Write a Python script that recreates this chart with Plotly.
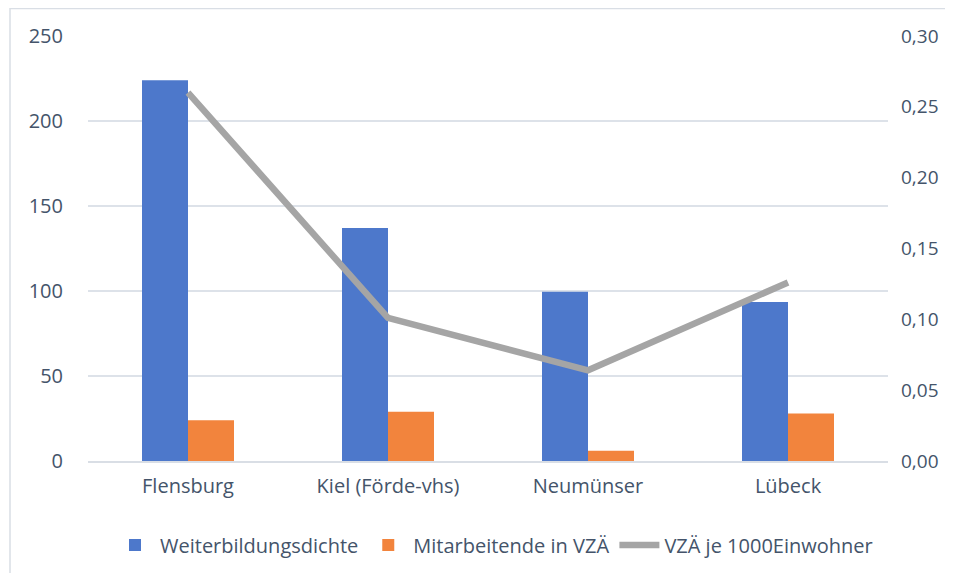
import plotly.graph_objects as go

categories = ["Flensburg", "Kiel (Förde-vhs)", "Neumünser", "Lübeck"]
weiterbildungsdichte = [224, 137, 99.5, 93.5]
mitarbeitende_vza = [24, 29, 6, 28]
vza_je_1000 = [0.26, 0.101, 0.064, 0.126]

left_ticks = [0, 50, 100, 150, 200, 250]
right_ticks = [0, 0.05, 0.10, 0.15, 0.20, 0.25, 0.30]

font_color = "#44546A"
font_family = "Open Sans, Noto Sans, sans-serif"

fig = go.Figure()
fig.add_trace(go.Bar(
    x=categories, y=weiterbildungsdichte, name="Weiterbildungsdichte",
    marker=dict(color="#4D78CB", line=dict(width=0)),
))
fig.add_trace(go.Bar(
    x=categories, y=mitarbeitende_vza, name="Mitarbeitende in VZÄ",
    marker=dict(color="#F2843D", line=dict(width=0)),
))
fig.add_trace(go.Scatter(
    x=categories, y=vza_je_1000, name="VZÄ je 1000Einwohner",
    mode="lines", yaxis="y2",
    line=dict(color="#A5A5A5", width=6.5),
))

W, H = 937, 565
# page body has an 8px margin; figure is sized/positioned to compensate
fig.update_layout(
    width=W, height=H,
    margin=dict(l=80, r=57, t=28, b=112, autoexpand=False),
    paper_bgcolor="white", plot_bgcolor="white",
    font=dict(family=font_family, size=20, color=font_color),
    separators=",.",
    barmode="group", bargap=0.54, bargroupgap=0,
    showlegend=True,
    legend=dict(orientation="h", xref="container", yref="container",
                x=486 / W, xanchor="center", y=(H - 537) / H, yanchor="middle",
                font=dict(size=20, color=font_color), itemwidth=40,
                traceorder="normal"),
    xaxis=dict(showgrid=False, showline=True, linecolor="#D9DEE5", linewidth=1.5,
               ticks="", tickfont=dict(size=20, color=font_color), ticklabelstandoff=6,
               automargin=False),
    yaxis=dict(range=[0, 250], tickvals=left_ticks, showgrid=True, gridcolor="#DDE2E9",
               gridwidth=1.5, zeroline=False, showline=False, ticks="",
               tickfont=dict(size=20, color=font_color), ticklabelstandoff=24,
               automargin=False),
    yaxis2=dict(range=[0, 0.30], tickvals=right_ticks, tickformat=".2f", overlaying="y",
                side="right", showgrid=False, zeroline=False, showline=False, ticks="",
                tickfont=dict(size=19, color=font_color), ticklabelstandoff=12,
                automargin=False),
    shapes=[dict(type="rect", xref="paper", yref="paper",
                 x0=-78/800, x1=1.2, y0=-0.6, y1=1 + 27.5/425,
                 line=dict(color="#D9DEE5", width=1.5), fillcolor="rgba(0,0,0,0)",
                 layer="below")],
)

fig.write_html("out.html")
